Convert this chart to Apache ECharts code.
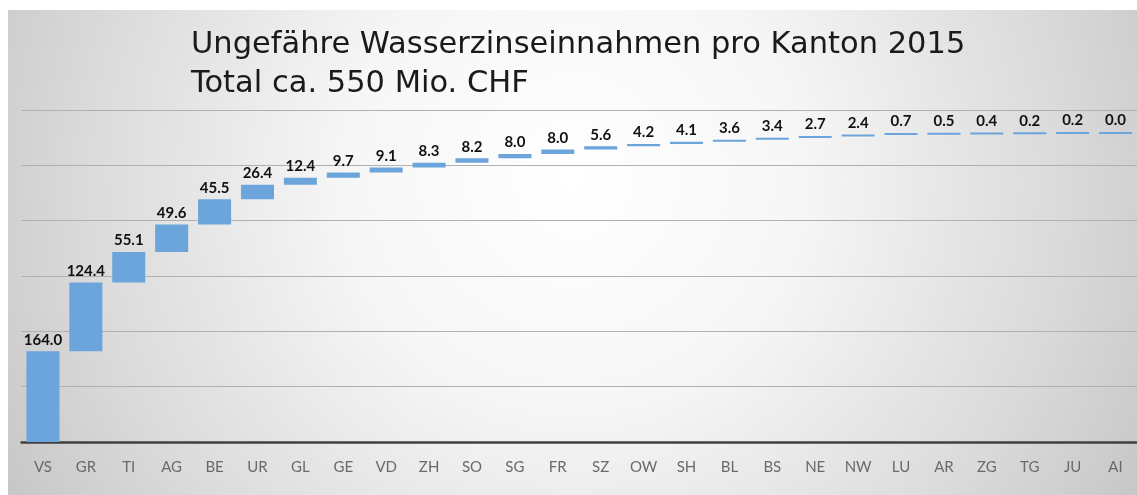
<!DOCTYPE html>
<html>
<head>
<meta charset="utf-8">
<script src="https://cdn.jsdelivr.net/npm/echarts@6/dist/echarts.min.js"></script>
<style>
html,body{margin:0;padding:0;background:#ffffff;}
#chart{width:1137px;height:495px;}
</style>
</head>
<body>
<div id="chart"></div>
<script>
const categories = ['VS','GR','TI','AG','BE','UR','GL','GE','VD','ZH','SO','SG','FR','SZ','OW','SH','BL','BS','NE','NW','LU','AR','ZG','TG','JU','AI'];
const values = [164.0,124.4,55.1,49.6,45.5,26.4,12.4,9.7,9.1,8.3,8.2,8.0,8.0,5.6,4.2,4.1,3.6,3.4,2.7,2.4,0.7,0.5,0.4,0.2,0.2,0.0];
const titleLines = ['Ungefähre Wasserzinseinnahmen pro Kanton 2015','Total ca. 550 Mio. CHF'];

// cumulative base for waterfall
const bases = [];
let run = 0;
for (const v of values) { bases.push(+run.toFixed(2)); run += v; }

const chart = echarts.init(document.getElementById('chart'), null, {renderer:'canvas'});
chart.setOption({
  animation:false,
  graphic:[{
    type:'rect', z:-10, silent:true,
    shape:{x:8,y:10,width:1129,height:485},
    style:{fill:{type:'radial',x:0.5,y:0.35,r:1.35,colorStops:[
      {offset:0,color:'#ffffff'},{offset:0.35,color:'#f6f6f6'},{offset:0.75,color:'#dadada'},{offset:1,color:'#c6c6c6'}]}}
  }],
  title:{
    text:titleLines.join('\n'),
    left:186, top:20.5,
    textStyle:{fontFamily:'DejaVu Sans, sans-serif',fontSize:30.5,fontWeight:'normal',color:'#1a1a1a',lineHeight:39}
  },
  grid:{left:21.5,width:1117,top:110,height:332,containLabel:false},
  xAxis:{
    type:'category',data:categories,
    axisLine:{lineStyle:{color:'#404040',width:2.5}},
    axisTick:{show:false},
    axisLabel:{color:'#6a6a6a',fontFamily:'Lato, Open Sans, sans-serif',fontSize:15,margin:18}
  },
  yAxis:{
    type:'value',min:0,max:600,interval:100,
    axisLabel:{show:false},axisLine:{show:false},axisTick:{show:false},
    splitLine:{lineStyle:{color:'#b0b0b0',width:1.2}}
  },
  series:[
    {type:'bar',stack:'w',data:bases,itemStyle:{color:'transparent'},barCategoryGap:'23%',silent:true},
    {type:'bar',stack:'w',data:values,barMinHeight:2,
     itemStyle:{color:'#6ca5db'},
     label:{show:true,position:'top',distance:4,formatter:p=>p.value.toFixed(1),
       fontFamily:'Lato, Open Sans, sans-serif',fontWeight:'bold',fontSize:15,color:'#111111'}}
  ]
});
</script>
</body>
</html>
